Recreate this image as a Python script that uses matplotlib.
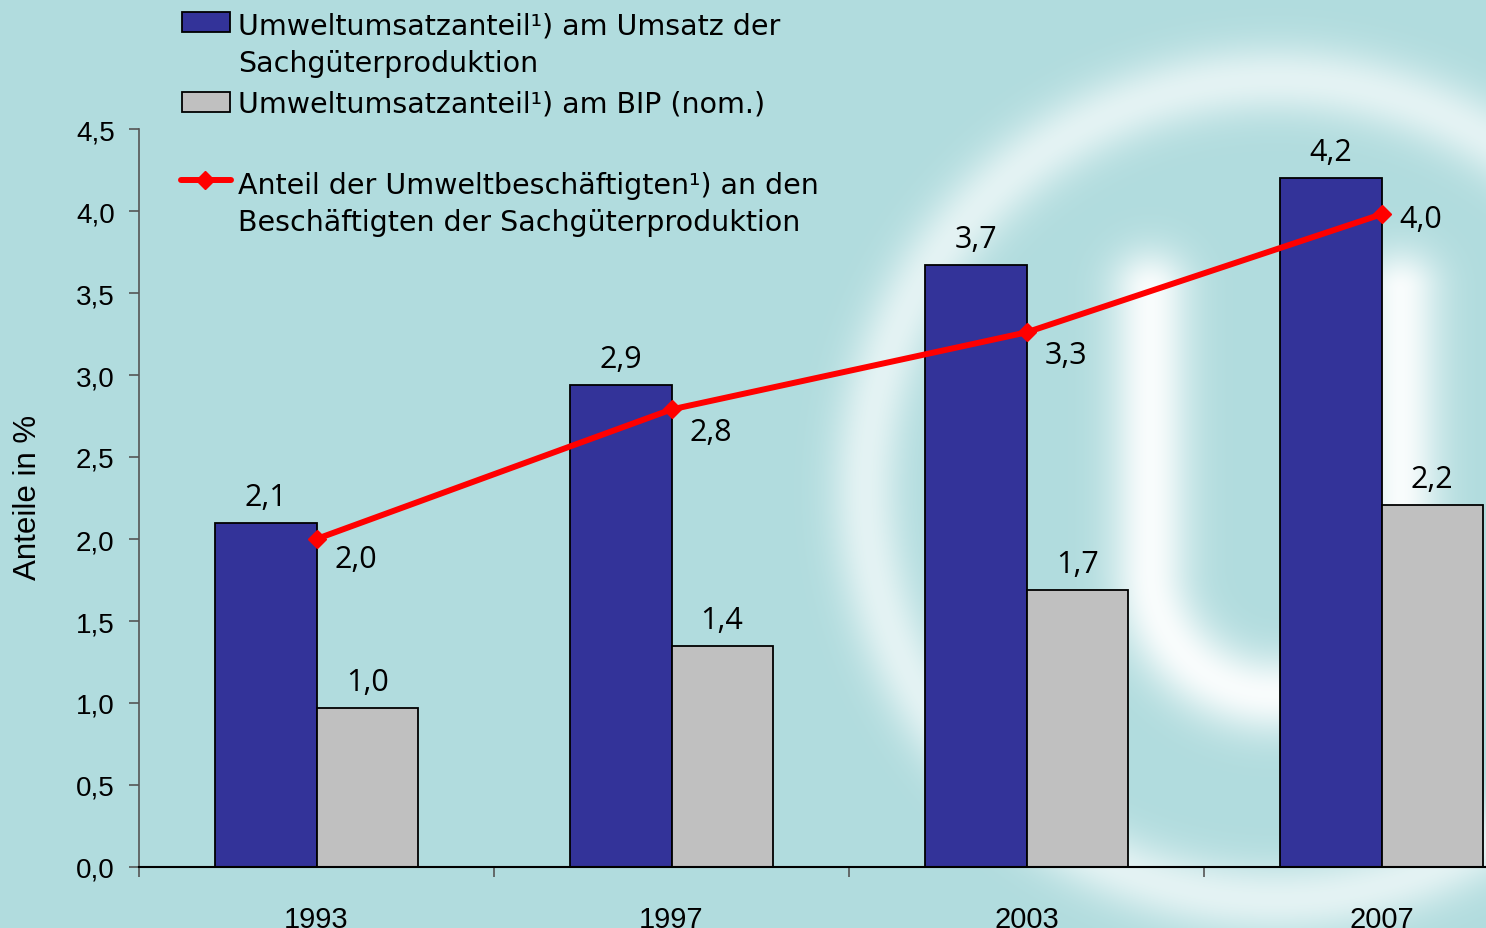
import numpy as np
import matplotlib
matplotlib.use("Agg")
import matplotlib.pyplot as plt
from matplotlib.patches import Rectangle
from matplotlib.lines import Line2D

# ── Data ──
years = ["1993", "1997", "2003", "2007"]
umsatz_sach = [2.10, 2.94, 3.67, 4.20]      # share of manufacturing turnover
umsatz_bip = [0.97, 1.35, 1.69, 2.21]       # share of GDP (nominal)
beschaeftigte = [2.00, 2.79, 3.26, 3.98]    # share of employees

LEG_SACH = ["Umweltumsatzanteil¹) am Umsatz der", "Sachgüterproduktion"]
LEG_BIP = ["Umweltumsatzanteil¹) am BIP (nom.)"]
LEG_BESCH = ["Anteil der Umweltbeschäftigten¹) an den",
             "Beschäftigten der Sachgüterproduktion"]

NAVY = "#333399"
GREY = "#c0c0c0"
RED = "#ff0000"
BG = np.array([177, 220, 222]) / 255.0

W, H = 1486, 929
LABEL_FONT = "Open Sans"
LEGEND_FONT = "DejaVu Sans"
AXIS_FONT = "Liberation Sans"


def fmt(v):
    return f"{v:.1f}".replace(".", ",")


def fx(px):
    return px / W


def fy(py):
    return 1 - py / H


fig = plt.figure(figsize=(W / 100, H / 100), dpi=100)

# ── background: teal with a soft white logo (ring + "U") ──
yy, xx = np.mgrid[0:H, 0:W].astype(float)
d_ring = np.abs(np.hypot(xx - 1275, yy - 490) - 410)
a_ring = 0.65 * np.exp(-(d_ring / 36) ** 2)
d_arm = np.minimum(np.abs(xx - 1150), np.abs(xx - 1400))
d_arm = np.hypot(d_arm, np.clip(290 - yy, 0, None))
d_arc = np.abs(np.hypot(xx - 1275, yy - 570) - 125)
d_u = np.where(yy < 570, d_arm, d_arc)
a_u = 0.92 * np.exp(-(d_u / 40) ** 2)
w = 1 - (1 - a_ring) * (1 - a_u)
img = BG[None, None, :] * (1 - w[..., None]) + w[..., None]

bg_ax = fig.add_axes([0, 0, 1, 1], zorder=0)
bg_ax.imshow(img, aspect="auto", extent=(0, W, H, 0))
bg_ax.axis("off")

# ── main axes (extends past the right edge like the original) ──
ax = fig.add_axes([fx(139), fy(868), (1559 - 139) / W, (868 - 130) / H], zorder=1)
ax.set_facecolor("none")

x = np.arange(len(years))
bw = 0.285
ax.bar(x - bw / 2, umsatz_sach, bw, color=NAVY, edgecolor="black", linewidth=1.3, zorder=2)
ax.bar(x + bw / 2, umsatz_bip, bw, color=GREY, edgecolor="black", linewidth=1.3, zorder=2)
ax.plot(x, beschaeftigte, color=RED, linewidth=4.3, marker="D", markersize=9,
        zorder=3, clip_on=False)

# value labels
for xi, v in zip(x, umsatz_sach):
    ax.annotate(fmt(v), (xi - bw / 2, v), xytext=(0, 13), textcoords="offset points",
                ha="center", va="baseline", fontsize=22, family=LABEL_FONT)
for xi, v in zip(x, umsatz_bip):
    ax.annotate(fmt(v), (xi + bw / 2, v), xytext=(0, 13), textcoords="offset points",
                ha="center", va="baseline", fontsize=22, family=LABEL_FONT)
line_offsets = [(13, -20), (13, -22), (13, -22), (13, -9)]
for xi, v, off in zip(x, beschaeftigte, line_offsets):
    ax.annotate(fmt(v), (xi, v), xytext=off, textcoords="offset points",
                ha="left", va="baseline", fontsize=22, family=LABEL_FONT)

ax.set_xlim(-0.5, 3.5)
ax.set_ylim(0, 4.5)
yt = np.arange(0, 4.51, 0.5)
ax.set_yticks(yt)
ax.set_yticklabels([fmt(t) for t in yt], fontsize=20, family=AXIS_FONT)
ax.set_xticks(np.arange(-0.5, 3.6, 1.0))
ax.set_xticklabels([])
ax.set_xticks(x, minor=True)
ax.set_xticklabels(years, minor=True, fontsize=21, family=AXIS_FONT)
ax.tick_params(axis="x", which="major", direction="out", length=7, width=1.2, color="#555555")
ax.tick_params(axis="x", which="minor", length=0, pad=27.5)
ax.tick_params(axis="y", direction="out", length=7, width=1.2, color="#555555", pad=10.5)

for s in ["top", "right"]:
    ax.spines[s].set_visible(False)
ax.spines["left"].set_color("#555555")
ax.spines["left"].set_linewidth(1.2)
ax.spines["bottom"].set_color("black")
ax.spines["bottom"].set_linewidth(1.5)

fig.text(fx(28), fy(497), "Anteile in %", rotation=90, ha="center", va="center",
         fontsize=22.5, family=AXIS_FONT)

# ── legend drawn by hand (handle aligned with first text line) ──
fig.add_artist(Rectangle((fx(182), fy(33)), fx(48), (33 - 13) / H, transform=fig.transFigure,
                         facecolor=NAVY, edgecolor="black", linewidth=1.3))
fig.add_artist(Rectangle((fx(182), fy(113)), fx(48), (113 - 93) / H, transform=fig.transFigure,
                         facecolor=GREY, edgecolor="black", linewidth=1.3))
fig.add_artist(Line2D([fx(181), fx(231)], [fy(181), fy(181)], transform=fig.transFigure,
                      color=RED, linewidth=4.3, solid_capstyle="round"))
fig.add_artist(Line2D([fx(205)], [fy(181)], transform=fig.transFigure, color=RED,
                      marker="D", markersize=9))

leg_lines = [(LEG_SACH, 35), (LEG_BIP, 112), (LEG_BESCH, 194)]
for lines, base in leg_lines:
    for k, line in enumerate(lines):
        fig.text(fx(238), fy(base + 37 * k), line, ha="left", va="baseline",
                 fontsize=20.5, family=LEGEND_FONT)

fig.savefig("out.png", dpi=100)
